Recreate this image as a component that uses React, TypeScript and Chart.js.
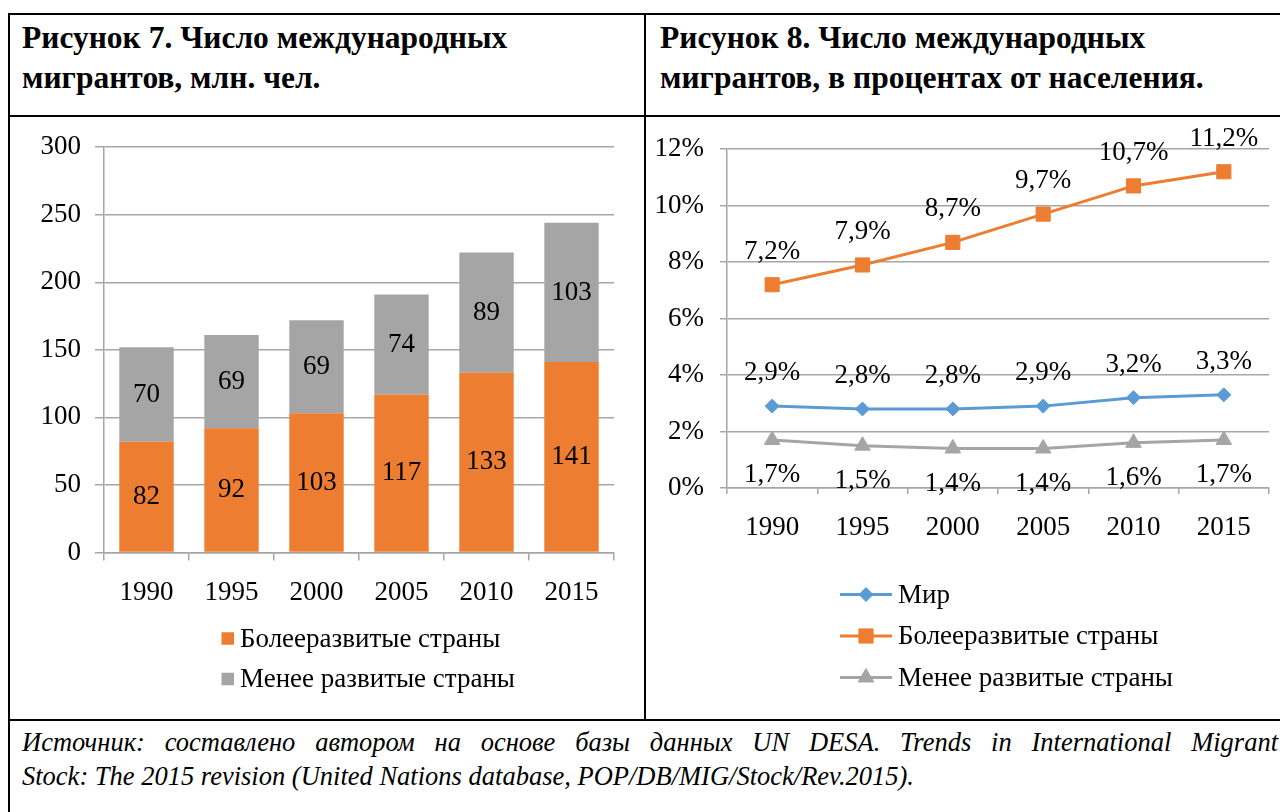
import React, { useEffect, useRef } from 'react';
import { Chart, registerables } from 'chart.js';
import { drawPoint } from 'chart.js/helpers';

Chart.register(...registerables);

// ---------- data ----------
const years = ['1990', '1995', '2000', '2005', '2010', '2015'];
const moreDevCount = [82, 92, 103, 117, 133, 141];
const lessDevCount = [70, 69, 69, 74, 89, 103];
const worldShare = [2.9, 2.8, 2.8, 2.9, 3.2, 3.3];
const moreDevShare = [7.2, 7.9, 8.7, 9.7, 10.7, 11.2];
const lessDevShare = [1.7, 1.5, 1.4, 1.4, 1.6, 1.7];

const labelWorld = 'Мир';
const labelMoreDev = 'Болееразвитые страны';
const labelLessDev = 'Менее развитые страны';

const title7 = ['Рисунок 7. Число международных', 'мигрантов, млн. чел.'];
const title8 = ['Рисунок 8. Число международных', 'мигрантов, в процентах от населения.'];
const sourceLines = [
  'Источник: составлено автором на основе базы данных UN DESA. Trends in International Migrant',
  'Stock: The 2015 revision (United Nations database, POP/DB/MIG/Stock/Rev.2015).',
];

// ---------- style ----------
const ORANGE = '#ED7D31';
const GRAY = '#A5A5A5';
const BLUE = '#5B9BD5';
const GRID = '#a6a6a6';
const SERIF = '"Liberation Serif", "Times New Roman", serif';
const FS = 27;
const FONT = { family: SERIF, size: FS };

const segLabelsPlugin = {
  id: 'segLabels',
  afterDatasetsDraw(chart: any) {
    const ctx = chart.ctx;
    ctx.save();
    ctx.font = `${FS}px ${SERIF}`;
    ctx.fillStyle = '#000';
    ctx.textAlign = 'center';
    ctx.textBaseline = 'middle';
    chart.data.datasets.forEach((ds: any, di: number) => {
      const meta = chart.getDatasetMeta(di);
      meta.data.forEach((el: any, i: number) => {
        const p = el.getProps(['x', 'y', 'base'], true);
        ctx.fillText(String(ds.data[i]), p.x, (p.y + p.base) / 2);
      });
    });
    ctx.restore();
  },
};

const pointLabelsPlugin = {
  id: 'pointLabels',
  afterDatasetsDraw(chart: any, _args: any, opts: any) {
    const ctx = chart.ctx;
    ctx.save();
    ctx.font = `${FS}px ${SERIF}`;
    ctx.fillStyle = '#000';
    ctx.textAlign = 'center';
    ctx.textBaseline = 'middle';
    chart.data.datasets.forEach((ds: any, di: number) => {
      const meta = chart.getDatasetMeta(di);
      const off = (opts.offsets || [])[di] || 0;
      meta.data.forEach((el: any, i: number) => {
        const txt = String(ds.data[i]).replace('.', ',') + '%';
        ctx.fillText(txt, el.x, el.y + off);
      });
    });
    ctx.restore();
  },
};

const customLegendPlugin = {
  id: 'customLegend',
  afterDraw(chart: any, _args: any, opts: any) {
    const ctx = chart.ctx;
    const area = chart.chartArea;
    ctx.save();
    ctx.font = `${FS}px ${SERIF}`;
    ctx.fillStyle = '#000';
    ctx.textBaseline = 'middle';
    ctx.textAlign = 'left';
    const order: number[] = opts.order;
    order.forEach((di: number, row: number) => {
      const ds = chart.data.datasets[di];
      const y = area.bottom + opts.firstRowOffset + row * opts.rowGap;
      const x0 = area.left + opts.xOffset;
      if (opts.kind === 'box') {
        ctx.fillStyle = ds.backgroundColor;
        ctx.fillRect(x0, y - opts.box / 2, opts.box, opts.box);
        ctx.fillStyle = '#000';
        ctx.fillText(ds.label, x0 + opts.box + opts.textGap, y + 1);
      } else {
        ctx.strokeStyle = ds.borderColor;
        ctx.lineWidth = 3;
        ctx.beginPath();
        ctx.moveTo(x0, y);
        ctx.lineTo(x0 + opts.lineLen, y);
        ctx.stroke();
        ctx.fillStyle = ds.backgroundColor;
        ctx.strokeStyle = ds.borderColor;
        ctx.lineWidth = 1;
        drawPoint(
          ctx,
          { pointStyle: ds.pointStyle, radius: ds.pointRadius, rotation: 0, borderWidth: 1 } as any,
          x0 + opts.lineLen / 2,
          y
        );
        ctx.fillStyle = '#000';
        ctx.fillText(ds.label, x0 + opts.lineLen + opts.textGap, y + 1);
      }
    });
    ctx.restore();
  },
};

function BarChart() {
  const ref = useRef<HTMLCanvasElement>(null);
  useEffect(() => {
    const chart = new Chart(ref.current!, {
      type: 'bar',
      data: {
        labels: years,
        datasets: [
          {
            label: labelMoreDev,
            data: moreDevCount,
            backgroundColor: ORANGE,
            barPercentage: 0.64,
            categoryPercentage: 1,
          },
          {
            label: labelLessDev,
            data: lessDevCount,
            backgroundColor: GRAY,
            barPercentage: 0.64,
            categoryPercentage: 1,
          },
        ],
      },
      options: {
        animation: false,
        responsive: false,
        maintainAspectRatio: false,
        layout: { padding: { top: 29, right: 30, bottom: 0, left: 0 } },
        plugins: {
          legend: { display: false },
          tooltip: { enabled: false },
          customLegend: {
            kind: 'box',
            order: [0, 1],
            firstRowOffset: 86,
            rowGap: 40.5,
            xOffset: 117.5,
            box: 12.5,
            textGap: 6,
          },
        } as any,
        scales: {
          x: {
            stacked: true,
            grid: { drawOnChartArea: false, drawTicks: true, tickLength: 8, color: GRID, lineWidth: 1.5, offset: true },
            border: { color: GRID, width: 1.5 },
            ticks: { font: FONT, color: '#000', padding: 16 },
            afterFit: (s: any) => {
              s.height = 166.5;
            },
          },
          y: {
            stacked: true,
            min: 0,
            max: 300,
            ticks: { stepSize: 50, font: FONT, color: '#000', padding: 14 },
            grid: { color: GRID, lineWidth: 1.5, tickLength: 9 },
            border: { color: GRID, width: 1.5 },
            afterFit: (s: any) => {
              s.width = 94;
            },
          },
        },
      },
      plugins: [segLabelsPlugin, customLegendPlugin],
    });
    return () => chart.destroy();
  }, []);
  return (
    <canvas
      ref={ref}
      width={634}
      height={602}
      style={{ position: 'absolute', left: 10, top: 117, width: 634, height: 602 }}
    />
  );
}

function LineChart() {
  const ref = useRef<HTMLCanvasElement>(null);
  useEffect(() => {
    const common = { borderWidth: 3, tension: 0, pointBorderWidth: 1, fill: false };
    const chart = new Chart(ref.current!, {
      type: 'line',
      data: {
        labels: years,
        datasets: [
          {
            ...common,
            label: labelWorld,
            data: worldShare,
            borderColor: BLUE,
            backgroundColor: BLUE,
            pointBackgroundColor: BLUE,
            pointBorderColor: BLUE,
            pointStyle: 'rectRot',
            pointRadius: 7,
          },
          {
            ...common,
            label: labelMoreDev,
            data: moreDevShare,
            borderColor: ORANGE,
            backgroundColor: ORANGE,
            pointBackgroundColor: ORANGE,
            pointBorderColor: ORANGE,
            pointStyle: 'rect',
            pointRadius: 10,
          },
          {
            ...common,
            label: labelLessDev,
            data: lessDevShare,
            borderColor: GRAY,
            backgroundColor: GRAY,
            pointBackgroundColor: GRAY,
            pointBorderColor: GRAY,
            pointStyle: 'triangle',
            pointRadius: 9,
          },
        ],
      },
      options: {
        animation: false,
        responsive: false,
        maintainAspectRatio: false,
        layout: { padding: { top: 30, right: 10, bottom: 0, left: 0 } },
        plugins: {
          legend: { display: false },
          tooltip: { enabled: false },
          pointLabels: { offsets: [-33, -33, 35] },
          customLegend: {
            kind: 'line',
            order: [0, 1, 2],
            firstRowOffset: 106.5,
            rowGap: 41.5,
            xOffset: 113,
            lineLen: 52,
            textGap: 6,
          },
        } as any,
        scales: {
          x: {
            offset: true,
            grid: { drawOnChartArea: false, drawTicks: true, tickLength: 6, color: GRID, lineWidth: 1.5, offset: true },
            border: { color: GRID, width: 1.5 },
            ticks: { font: FONT, color: '#000', padding: 18 },
            afterFit: (s: any) => {
              s.height = 231;
            },
          },
          y: {
            min: 0,
            max: 12,
            ticks: {
              stepSize: 2,
              font: FONT,
              color: '#000',
              padding: 16,
              callback: (v: any) => v + '%',
            },
            grid: { color: GRID, lineWidth: 1.5, tickLength: 7 },
            border: { color: GRID, width: 1.5 },
            afterFit: (s: any) => {
              s.width = 81;
            },
          },
        },
      },
      plugins: [pointLabelsPlugin, customLegendPlugin],
    });
    return () => chart.destroy();
  }, []);
  return (
    <canvas
      ref={ref}
      width={634}
      height={602}
      style={{ position: 'absolute', left: 646, top: 117, width: 634, height: 602 }}
    />
  );
}

const line = (l: number, t: number, w: number, h: number) => (
  <div style={{ position: 'absolute', left: l, top: t, width: w, height: h, background: '#000' }} />
);

export default function App() {
  const titleStyle: React.CSSProperties = {
    position: 'absolute',
    top: 18,
    fontFamily: SERIF,
    fontWeight: 'bold',
    fontSize: 31.5,
    lineHeight: '40px',
    color: '#000',
    whiteSpace: 'nowrap',
  };
  const srcStyle: React.CSSProperties = {
    position: 'absolute',
    left: 22,
    width: 1256,
    fontFamily: SERIF,
    fontStyle: 'italic',
    fontSize: 26.5,
    lineHeight: '34px',
    color: '#000',
    whiteSpace: 'nowrap',
  };
  return (
    <div
      style={{
        position: 'absolute',
        left: 0,
        top: 0,
        width: 1280,
        height: 812,
        overflow: 'hidden',
        background: '#fff',
      }}
    >
      {line(8, 13, 1300, 2)}
      {line(8, 115, 1300, 2)}
      {line(8, 719, 1300, 2)}
      {line(8, 13, 2, 820)}
      {line(644, 13, 2, 708)}
      <div style={{ ...titleStyle, left: 22 }}>
        {title7[0]}
        <br />
        {title7[1]}
      </div>
      <div style={{ ...titleStyle, left: 660 }}>
        {title8[0]}
        <br />
        {title8[1]}
      </div>
      <BarChart />
      <LineChart />
      <div style={{ ...srcStyle, top: 725, textAlign: 'justify', textAlignLast: 'justify' } as any}>
        {sourceLines[0]}
      </div>
      <div style={{ ...srcStyle, top: 759, textAlign: 'left' }}>{sourceLines[1]}</div>
    </div>
  );
}
